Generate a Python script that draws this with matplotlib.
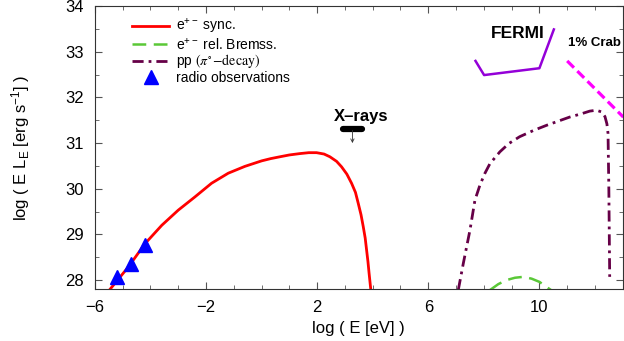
import matplotlib
matplotlib.use("Agg")
import matplotlib.pyplot as plt
from matplotlib.ticker import MultipleLocator

plt.rcParams["font.family"] = ["Liberation Sans", "DejaVu Sans"]
plt.rcParams["mathtext.fontset"] = "custom"
plt.rcParams["mathtext.rm"] = "Liberation Sans"
plt.rcParams["mathtext.it"] = "Liberation Sans:italic"

# electron synchrotron
sync_x = [-5.45, -4.79, -4.19, -3.59, -3.0, -2.40, -1.80, -1.20, -0.60, 0.0, 0.33,
          0.66, 1.0, 1.38, 1.70, 1.98, 2.25, 2.46, 2.70, 2.88, 3.07, 3.24, 3.38,
          3.48, 3.58, 3.66, 3.73, 3.78, 3.83, 3.87, 3.93]
sync_y = [27.80, 28.29, 28.80, 29.20, 29.53, 29.82, 30.12, 30.34, 30.49, 30.61, 30.66,
          30.70, 30.74, 30.77, 30.79, 30.79, 30.76, 30.70, 30.60, 30.48, 30.32, 30.12, 29.92,
          29.68, 29.43, 29.17, 28.92, 28.66, 28.40, 28.15, 27.80]

# radio data
radio_x = [-5.20, -4.70, -4.19]
radio_y = [28.07, 28.36, 28.77]

# relativistic bremsstrahlung
brems_x = [8.22, 8.52, 8.82, 9.12, 9.42, 9.72, 10.0, 10.42]
brems_y = [27.78, 27.91, 28.00, 28.05, 28.07, 28.03, 27.96, 27.78]

# pp -> pi0 decay
pp_x = [7.08, 7.26, 7.50, 7.68, 7.86, 8.04, 8.22, 8.58, 8.90, 9.29, 9.80, 10.26, 11.09,
        11.50, 11.81, 12.05, 12.25, 12.36, 12.43, 12.47, 12.50, 12.53]
pp_y = [27.78, 28.36, 29.09, 29.75, 30.08, 30.34, 30.55, 30.81, 30.99, 31.14, 31.28, 31.39,
        31.57, 31.64, 31.70, 31.72, 31.68, 31.58, 31.42, 31.21, 29.97, 28.07]

# FERMI sensitivity
fermi_x = [7.70, 8.01, 10.0, 10.52]
fermi_y = [32.80, 32.49, 32.64, 33.49]

# 1% Crab
crab_x = [11.0, 13.02]
crab_y = [32.80, 31.57]

# X-ray upper limit
xray_x = [2.94, 3.60]
xray_y = [31.30, 31.30]
xray_arrow_x = 3.27
xray_arrow_y = [31.28, 31.0]

fig = plt.figure(figsize=(6.24, 3.41), dpi=100)
ax = fig.add_axes([0.152, 0.152, 0.846, 0.830])

ax.plot(sync_x, sync_y, color="#ff0000", lw=2.0, label=r"e$^{+-}$ sync.")
ax.plot(brems_x, brems_y, color="#5ac837", lw=1.8, dashes=(5.5, 3.0),
        label=r"e$^{+-}$ rel. Bremss.")
ax.plot(pp_x, pp_y, color="#660047", lw=2.0, dashes=(4.0, 1.8, 1.0, 1.8),
        label=r"pp $(\pi^{\circ}\!-\!\mathrm{decay})$")
ax.plot(radio_x, radio_y, ls="none", marker="^", ms=10, color="#0000ff",
        label="radio observations")
ax.plot(fermi_x, fermi_y, color="#9400d8", lw=1.8)
ax.plot(crab_x, crab_y, color="#ff00ff", lw=2.3, dashes=(3.0, 1.5))
ax.plot(xray_x, xray_y, color="black", lw=4.5, solid_capstyle="round")
ax.annotate("", xy=(xray_arrow_x, xray_arrow_y[1]), xytext=(xray_arrow_x, xray_arrow_y[0]),
            arrowprops=dict(arrowstyle="->", lw=0.6, color="#333333",
                            shrinkA=0, shrinkB=0, mutation_scale=6))

ax.text(3.6, 31.59, "X\u2013rays", fontsize=12, fontweight="bold",
        ha="center", va="center")
ax.text(9.22, 33.40, "FERMI", fontsize=12.5, fontweight="bold",
        ha="center", va="center")
ax.text(11.03, 33.19, "1% Crab", fontsize=9.5, fontweight="bold",
        ha="left", va="center", clip_on=False)

ax.set_xlim(-6, 13)
ax.set_ylim(27.8, 34)
ax.xaxis.set_major_locator(MultipleLocator(4))
ax.xaxis.set_minor_locator(MultipleLocator(1))
ax.yaxis.set_major_locator(MultipleLocator(1))
ax.yaxis.set_minor_locator(MultipleLocator(0.5))
ax.set_xticks([-6, -2, 2, 6, 10])
ax.tick_params(which="both", direction="in", top=True, right=True,
               labelsize=12, color="#555555")
ax.tick_params(which="major", length=5, width=0.8, pad=8)
ax.tick_params(which="minor", length=3, width=0.6)
for s in ax.spines.values():
    s.set_linewidth(0.8)
    s.set_color("#333333")

ax.set_xlabel("log ( E [eV] )", fontsize=12, labelpad=4)
ax.set_ylabel(r"log ( E L$_{\mathrm{E}}$ [erg s$^{-1}$] )", fontsize=12, labelpad=24)

leg = ax.legend(loc="upper left", bbox_to_anchor=(0.07, 0.962), frameon=False,
                fontsize=10, handlelength=2.7, handletextpad=0.5,
                labelspacing=0.02, borderpad=0, borderaxespad=0, numpoints=1)
leg.get_texts()[2].set_math_fontfamily("stix")

fig.savefig("out.png", dpi=100)
